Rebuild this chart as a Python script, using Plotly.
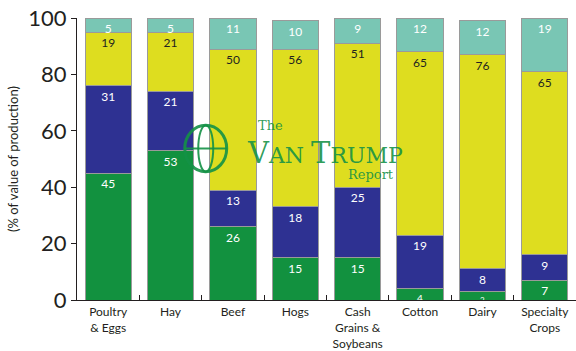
import plotly.graph_objects as go

categories = ["Poultry<br>& Eggs", "Hay", "Beef", "Hogs",
              "Cash<br>Grains &<br>Soybeans", "Cotton", "Dairy", "Specialty<br>Crops"]

# share of value of production by farm size class (bottom to top)
seg1 = [45, 53, 26, 15, 15, 4, 3, 7]
seg2 = [31, 21, 13, 18, 25, 19, 8, 9]
seg3 = [19, 21, 50, 56, 51, 65, 76, 65]
seg4 = [5, 5, 11, 10, 9, 12, 12, 19]

y_ticks = [0, 20, 40, 60, 80, 100]

series = [
    (seg1, "#12913f", "white"),
    (seg2, "#2e3192", "white"),
    (seg3, "#dedd1f", "#231f20"),
    (seg4, "#79c6b4", "white"),
]

fig = go.Figure()
for vals, color, tcolor in series:
    # thin segments get a smaller label so it stays within the bar
    sizes = [12 if v >= 5 else 10 if v == 4 else 8 for v in vals]
    fig.add_trace(go.Bar(
        x=categories, y=vals,
        marker=dict(color=color, line=dict(color="#9a9a9a", width=1)),
        text=[str(v) for v in vals],
        textposition="inside", insidetextanchor="end", textangle=0,
        constraintext="none",
        textfont=dict(family="Lato", size=sizes, color=tcolor),
        showlegend=False, hoverinfo="skip",
    ))

fig.update_layout(
    barmode="stack", bargap=0.26,
    width=576, height=351,
    margin=dict(l=77, r=0, t=18, b=51),
    plot_bgcolor="white", paper_bgcolor="white",
    font=dict(family="Lato", color="#231f20"),
)
fig.update_xaxes(
    automargin=False, tickangle=0,
    showline=True, linecolor="#231f20", linewidth=1,
    ticks="inside", tickson="boundaries", ticklen=5, tickcolor="#231f20",
    tickfont=dict(size=12, family="Lato"), ticklabelstandoff=1,
)
fig.update_yaxes(
    automargin=False,
    range=[0, 100], tickvals=y_ticks,
    showline=True, linecolor="#231f20", linewidth=1,
    ticks="outside", ticklen=5, tickcolor="#231f20",
    showgrid=False, zeroline=False,
    tickfont=dict(size=22, family="Lato"),
    title=dict(text="(% of value of production)", font=dict(size=13, family="Lato"), standoff=6),
)

# publisher watermark
green = "rgba(20,145,70,0.9)"
fig.add_shape(type="circle", xref="paper", yref="paper",
              x0=0.216, x1=0.30, y0=0.455, y1=0.62,
              line=dict(color=green, width=3))
fig.add_shape(type="circle", xref="paper", yref="paper",
              x0=0.243, x1=0.273, y0=0.455, y1=0.62,
              line=dict(color=green, width=2))
fig.add_shape(type="line", xref="paper", yref="paper",
              x0=0.216, x1=0.30, y0=0.5375, y1=0.5375,
              line=dict(color=green, width=2))
fig.add_annotation(text="The", xref="paper", yref="paper", x=0.387, y=0.62,
                   showarrow=False, font=dict(family="DejaVu Serif", size=13, color=green))
fig.add_annotation(text="V<span style='font-size:22px'>AN </span>T<span style='font-size:22px'>RUMP</span>",
                   xref="paper", yref="paper", x=0.497, y=0.522,
                   showarrow=False, font=dict(family="DejaVu Serif", size=29, color=green))
fig.add_annotation(text="Report", xref="paper", yref="paper", x=0.59, y=0.445,
                   showarrow=False, font=dict(family="DejaVu Serif", size=13, color=green))

fig.write_html("out.html")
